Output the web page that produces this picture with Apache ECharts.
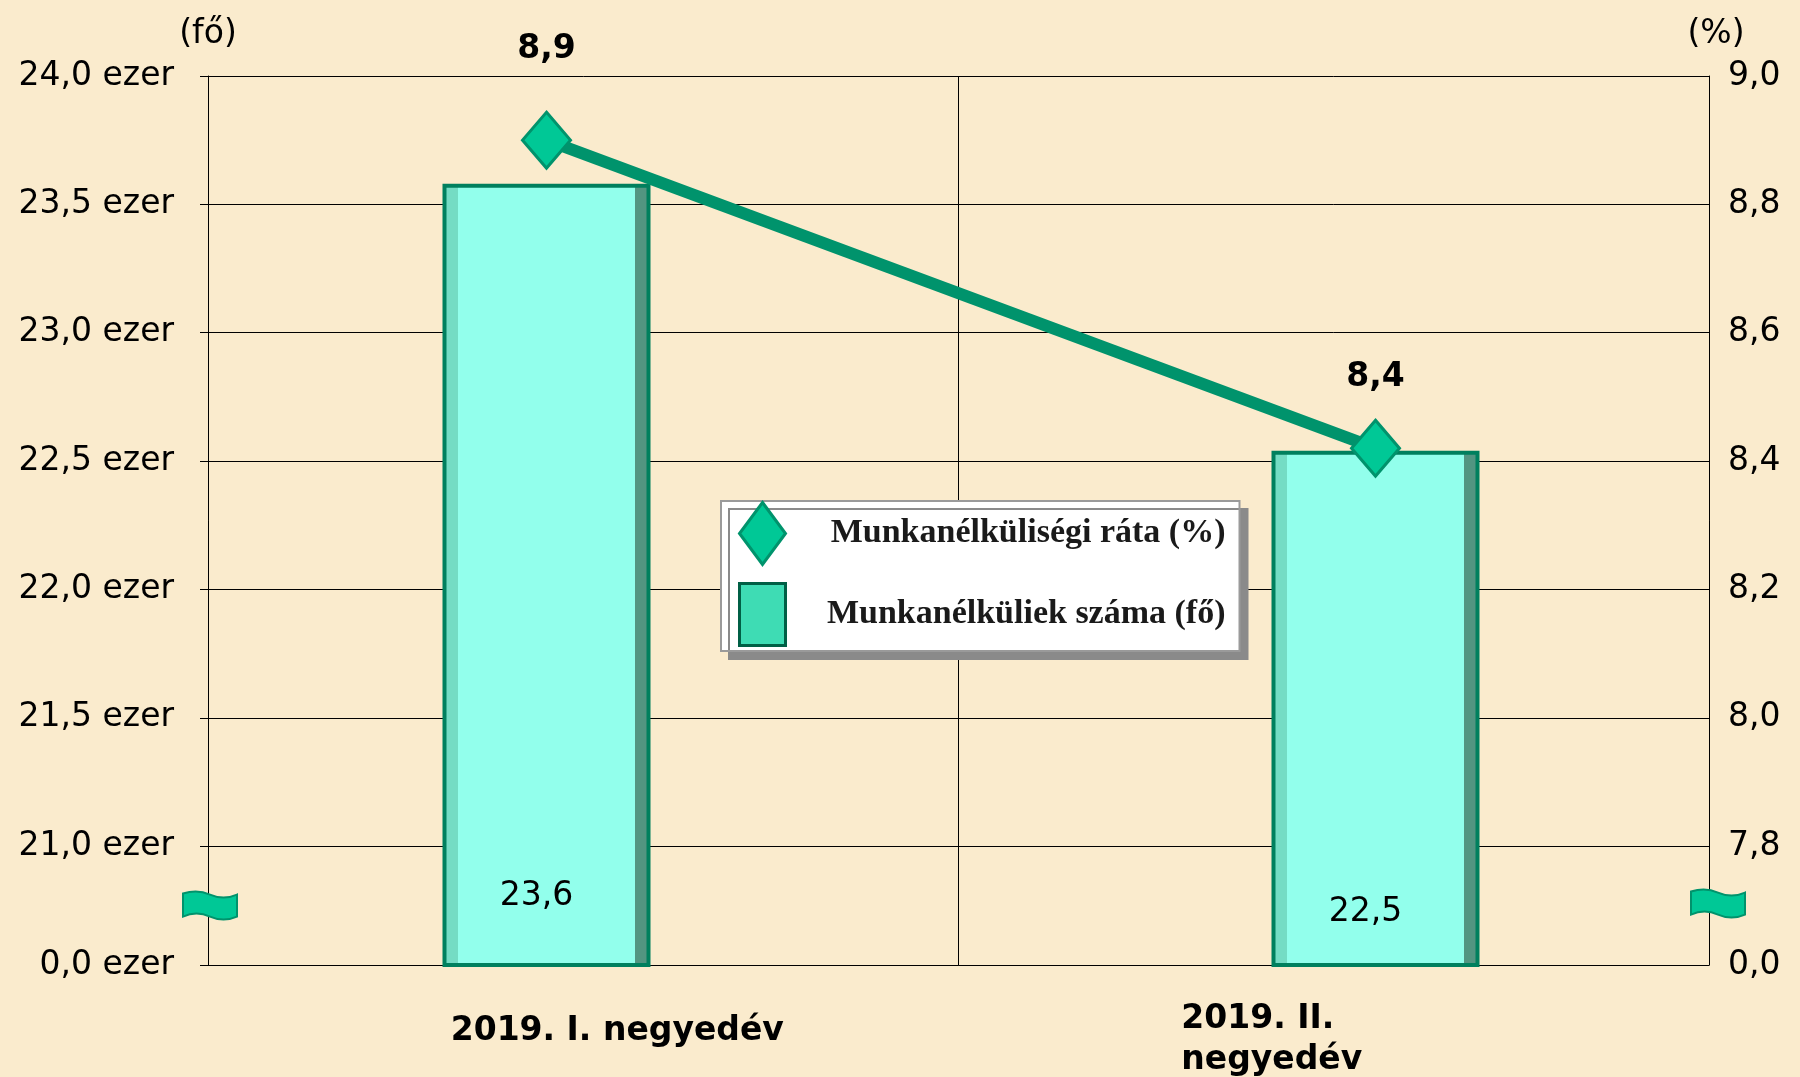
<!DOCTYPE html>
<html>
<head>
<meta charset="utf-8">
<title>Munkanélküliség 2019</title>
<script src="https://cdn.jsdelivr.net/npm/echarts@6.0.0/dist/echarts.min.js"></script>
<style>
  html, body { margin: 0; padding: 0; background: #faebcd; }
  #chart { width: 1800px; height: 1077px; }
</style>
</head>
<body>
<div id="chart"></div>
<script>
const categories = ['2019. I. negyedév', '2019. II.\nnegyedév']
const countValues = [23.58, 22.54] // ezer fő
const rateValues = [8.9, 8.42] // %
const countTicks = [0, 21, 21.5, 22, 22.5, 23, 23.5, 24]
const rateTicks = [0, 7.8, 8.0, 8.2, 8.4, 8.6, 8.8, 9.0]
const countName = 'Munkanélküliek száma (fő)'
const rateName = 'Munkanélküliségi ráta (%)'

const FONT = 'DejaVu Sans'
const GRID = { left: 208, right: 91, top: 76, bottom: 112 }
// broken axis: the "0" tick sits a little less than one step under the second tick
const BREAK_RATIO = 0.926

function breakMin(ticks) {
  const step = ticks[2] - ticks[1]
  return ticks[1] - step * BREAK_RATIO
}
const countMin = breakMin(countTicks)
const rateMin = breakMin(rateTicks)
const countAxisTicks = countTicks.map(v => (v === 0 ? countMin : v))
const rateAxisTicks = rateTicks.map(v => (v === 0 ? rateMin : v))

const fmt = v => v.toFixed(1).replace('.', ',')

const chart = echarts.init(document.getElementById('chart'))

// side bevels of the bars
const barFill = new echarts.graphic.LinearGradient(0, 0, 1, 0, [
  { offset: 0, color: '#74dcc4' },
  { offset: 0.075, color: '#74dcc4' },
  { offset: 0.075, color: '#92ffec' },
  { offset: 0.925, color: '#92ffec' },
  { offset: 0.925, color: '#529581' },
  { offset: 1, color: '#529581' }
])

const catLabelStyle = [
  { padding: [12, 0, 0, 68] },
  { padding: [0, 124, 0, 0] }
]
const rateLabelGap = [45, 25]
const countLabelGap = [54, 38]

const valueAxisBase = {
  type: 'value',
  axisLine: { show: true, lineStyle: { color: '#000', width: 1 } },
  splitLine: { show: true, lineStyle: { color: '#000', width: 1 } },
  nameTextStyle: { fontFamily: FONT, fontSize: 33, color: '#000', verticalAlign: 'middle' },
  nameGap: 42
}

chart.setOption({
  backgroundColor: '#faebcd',
  textStyle: { fontFamily: FONT },
  animation: false,
  grid: [
    { left: GRID.left, right: GRID.right, top: GRID.top, bottom: GRID.bottom, outerBoundsMode: 'none', containLabel: false },
    // data grid: wider so the bar centres fall where the original puts them
    { left: 132, right: 10, top: GRID.top, bottom: GRID.bottom, outerBoundsMode: 'none', containLabel: false }
  ],
  legend: {
    orient: 'vertical',
    left: 721,
    top: 501,
    padding: [0, 14, 4, 17],
    itemWidth: 46,
    itemHeight: 62,
    itemGap: 16,
    symbolKeepAspect: false,
    backgroundColor: '#ffffff',
    borderColor: '#9a9a9a',
    borderWidth: 2,
    shadowColor: '#8a8a8a',
    shadowOffsetX: 8,
    shadowOffsetY: 8,
    shadowBlur: 0,
    formatter: name => '{r|' + name + '}',
    textStyle: {
      fontSize: 34,
      rich: {
        r: {
          width: 435,
          align: 'right',
          fontFamily: 'Liberation Serif',
          fontWeight: 'bold',
          fontSize: 34,
          color: '#1a1a1a'
        }
      }
    },
    data: [
      { name: rateName, icon: 'diamond', itemStyle: { color: '#00c896', borderColor: '#00936c', borderWidth: 3 } },
      { name: countName, icon: 'rect', itemStyle: { color: '#3edcb4', borderColor: '#005f45', borderWidth: 3 } }
    ]
  },
  xAxis: [
    {
      type: 'category',
      gridIndex: 0,
      data: categories.map((c, i) => ({ value: c, textStyle: catLabelStyle[i] })),
      axisLine: { lineStyle: { color: '#000', width: 1 } },
      axisTick: { show: false },
      splitLine: { show: true, lineStyle: { color: '#000', width: 1 } },
      axisLabel: {
        interval: 0,
        margin: 34,
        formatter: v => v.split('\n').map(s => '{l|' + s + '}').join('\n'),
        rich: {
          l: { align: 'left', fontFamily: FONT, fontSize: 33, fontWeight: 'bold', color: '#000', lineHeight: 41 }
        }
      }
    },
    { type: 'category', gridIndex: 1, data: categories, show: false }
  ],
  yAxis: [
    Object.assign({}, valueAxisBase, {
      gridIndex: 0,
      position: 'left',
      name: '(fő)',
      min: countMin,
      max: 24,
      axisTick: { show: true, length: 8, customValues: countAxisTicks, lineStyle: { color: '#000' } },
      axisLabel: {
        customValues: countAxisTicks,
        fontSize: 33,
        color: '#000',
        margin: 34,
        formatter: v => (Math.abs(v - countMin) < 1e-6 ? '0,0' : fmt(v)) + ' ezer'
      }
    }),
    Object.assign({}, valueAxisBase, {
      gridIndex: 0,
      position: 'right',
      name: '(%)',
      min: rateMin,
      max: 9,
      nameTextStyle: Object.assign({}, valueAxisBase.nameTextStyle, { padding: [0, 0, 0, 14] }),
      axisTick: { show: false, customValues: rateAxisTicks },
      splitLine: { show: false },
      axisLabel: {
        customValues: rateAxisTicks,
        fontSize: 33,
        color: '#000',
        margin: 19,
        formatter: v => (Math.abs(v - rateMin) < 1e-6 ? '0,0' : fmt(v))
      }
    }),
    { type: 'value', gridIndex: 1, min: countMin, max: 24, show: false, splitLine: { show: false } },
    { type: 'value', gridIndex: 1, min: rateMin, max: 9, show: false, splitLine: { show: false } }
  ],
  series: [
    {
      name: countName,
      type: 'bar',
      xAxisIndex: 1,
      yAxisIndex: 2,
      barWidth: 208,
      itemStyle: { color: barFill, borderColor: '#00805e', borderWidth: 4 },
      label: {
        show: true,
        position: 'insideBottom',
        offset: [-10, 0],
        fontSize: 33,
        color: '#000',
        formatter: p => fmt(p.value)
      },
      data: countValues.map((v, i) => ({ value: v, label: { distance: countLabelGap[i] } }))
    },
    {
      name: rateName,
      type: 'line',
      xAxisIndex: 1,
      yAxisIndex: 3,
      symbol: 'diamond',
      symbolSize: [48, 56],
      lineStyle: { color: '#00936c', width: 12 },
      itemStyle: { color: '#00c896', borderColor: '#00936c', borderWidth: 3 },
      label: {
        show: true,
        position: 'top',
        fontSize: 33,
        fontWeight: 'bold',
        color: '#000',
        formatter: p => fmt(p.value)
      },
      data: rateValues.map((v, i) => ({ value: v, label: { distance: rateLabelGap[i] } }))
    }
  ]
})

// little wavy flags marking the axis breaks
const flagPath = 'M0,3 C9,0 18,0 27,4 C36,8 45,8 54,4 L54,26 C45,30 36,30 27,26 C18,22 9,22 0,26 Z'
echarts.graphic.registerShape('breakFlag', echarts.graphic.extendPath(flagPath, {}))
const leftFlagY = chart.convertToPixel({ yAxisIndex: 0 }, (countMin + countTicks[1]) / 2)
const rightFlagY = chart.convertToPixel({ yAxisIndex: 1 }, (rateMin + rateTicks[1]) / 2)
const flagStyle = { fill: '#00c896', stroke: '#00936c', lineWidth: 2 }
chart.setOption({
  graphic: [
    { type: 'breakFlag', z: 100, x: GRID.left - 25, y: leftFlagY - 15, style: flagStyle },
    { type: 'breakFlag', z: 100, x: 1800 - GRID.right - 18, y: rightFlagY - 17, style: flagStyle }
  ]
})
</script>
</body>
</html>
